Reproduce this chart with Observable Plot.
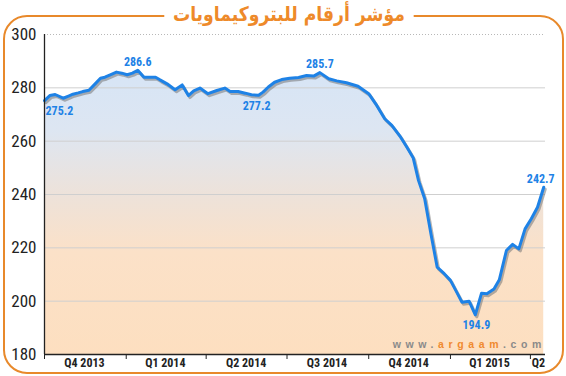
<!DOCTYPE html>
<html>
<head>
<meta charset="utf-8">
<script src="https://cdn.jsdelivr.net/npm/d3@7"></script>
<script src="https://cdn.jsdelivr.net/npm/@observablehq/plot@0.6"></script>
<style>
  body { margin: 0; background: #fff; }
  #wrap { position: relative; width: 566px; height: 376px; overflow: hidden; background: #fff; }
  #frame { position: absolute; left: 3px; top: 15px; width: 557px; height: 355px; border: 2px solid #e8892b; border-radius: 24px; }
  #title { position: absolute; top: 2px; left: 6px; width: 566px; text-align: center; }
  #title span { display: inline-block; background: #fff; padding: 0 10px; color: #ee8a2a; font: bold 20px "DejaVu Sans", sans-serif; direction: rtl; transform: scaleX(0.86); }
  #chart { position: absolute; left: 0; top: 0; }
  #wm { position: absolute; right: 20px; top: 338px; font: bold 10.5px "Liberation Sans", Arial, sans-serif; letter-spacing: 4.6px; color: #8a8a8a; white-space: nowrap; }
  #wm b { color: #f08a30; }
</style>
</head>
<body>
<div id="wrap">
  <div id="frame"></div>
  <div id="chart"></div>
  <div id="title"><span>مؤشر أرقام للبتروكيماويات</span></div>
  <div id="wm">www.<b>argaam</b>.com</div>
</div>
<script>
const dates = [
  "2013-10-01","2013-10-07","2013-10-13","2013-10-22","2013-10-28","2013-11-02","2013-11-08","2013-11-13",
  "2013-11-20","2013-11-27","2013-12-03","2013-12-08","2013-12-14","2013-12-21","2013-12-27","2014-01-02",
  "2014-01-08","2014-01-14","2014-01-21","2014-01-28","2014-02-03","2014-02-08","2014-02-16","2014-02-25",
  "2014-03-05","2014-03-12","2014-03-18","2014-03-25","2014-04-03","2014-04-13","2014-04-22","2014-04-28",
  "2014-05-07","2014-05-15","2014-05-22","2014-05-30","2014-06-04","2014-06-10","2014-06-17","2014-06-25",
  "2014-07-04","2014-07-14","2014-07-23","2014-07-31","2014-08-07","2014-08-17","2014-08-26","2014-09-06",
  "2014-09-19","2014-10-01","2014-10-10","2014-10-19","2014-10-27","2014-11-06","2014-11-13","2014-11-20",
  "2014-11-26","2014-12-03","2014-12-10","2014-12-17","2014-12-25","2015-01-01","2015-01-08","2015-01-14",
  "2015-01-22","2015-01-29","2015-02-05","2015-02-11","2015-02-19","2015-02-25","2015-03-05","2015-03-12",
  "2015-03-19","2015-03-26","2015-04-02","2015-04-09","2015-04-16"
];
const values = [
  275.2,277.1,277.5,276.1,276.9,277.6,278.1,278.6,
  279.1,281.5,283.6,284.0,284.9,285.9,285.5,284.9,
  285.5,286.6,284.0,284.0,284.0,283.0,281.5,279.3,
  281.1,277.1,278.9,279.9,277.8,279.0,279.9,278.6,
  278.6,278.0,277.4,277.2,278.4,280.3,282.1,283.1,
  283.6,283.9,284.6,284.4,285.7,283.4,282.6,281.9,
  280.6,277.8,273.4,268.4,265.9,261.5,257.7,253.8,
  245.3,238.4,225.3,212.8,210.3,207.8,203.4,199.6,
  200.0,194.9,203.0,202.8,204.6,208.0,219.0,221.3,
  219.6,227.1,230.9,235.2,242.7
];
const labelDates = ["2013-10-01","2014-01-14","2014-05-30","2014-08-07","2015-01-29","2015-04-16"];
const labelValues = [275.2, 286.6, 277.2, 285.7, 194.9, 242.7];
const quarterStarts = ["2013-10-01","2014-01-01","2014-04-01","2014-07-01","2014-10-01","2015-01-01","2015-04-01"];
const quarterLabels = ["Q4 2013","Q1 2014","Q2 2014","Q3 2014","Q4 2014","Q1 2015","Q2"];
const quarterLabelDates = ["2013-11-15","2014-02-14","2014-05-16","2014-08-15","2014-11-15","2015-02-14","2015-04-10"];
const yTicks = [180, 200, 220, 240, 260, 280, 300];
const xDomain = ["2013-10-01", "2015-04-18"];

const toDate = s => new Date(s + "T00:00:00Z");
const data = dates.map((d, i) => ({date: toDate(d), value: values[i]}));
const labels = labelDates.map((d, i) => ({date: toDate(d), value: labelValues[i], i}));
// label placement (dx, dy, anchor) per label index
const lp = [
  {dx: 1, dy: 11, a: "start"},
  {dx: 0, dy: -8, a: "middle"},
  {dx: -2, dy: 11, a: "middle"},
  {dx: 0, dy: -8, a: "middle"},
  {dx: 1, dy: 10, a: "middle"},
  {dx: -3, dy: -8, a: "middle"}
];
const blue = "#1e82e6";
const narrow = '"Liberation Sans Narrow", "Arial Narrow", "Roboto Condensed", "Liberation Sans", sans-serif';

const defsMark = () => {
  const ns = "http://www.w3.org/2000/svg";
  const defs = document.createElementNS(ns, "defs");
  defs.innerHTML = `<linearGradient id="fillGrad" gradientUnits="userSpaceOnUse" x1="0" y1="34" x2="0" y2="354">
      <stop offset="0" stop-color="#d3e4f8"/>
      <stop offset="0.3" stop-color="#dde6f2"/>
      <stop offset="0.5" stop-color="#ede2da"/>
      <stop offset="0.68" stop-color="#fbe1c8"/>
      <stop offset="1" stop-color="#fddfc0"/>
    </linearGradient>`;
  return defs;
};

const chart = Plot.plot({
  width: 566,
  height: 376,
  marginLeft: 44,
  marginRight: 21,
  marginTop: 34,
  marginBottom: 22,
  style: {fontFamily: narrow, background: "transparent", overflow: "visible"},
  x: {type: "utc", domain: xDomain.map(toDate)},
  y: {domain: [180, 300]},
  marks: [
    defsMark,
    Plot.areaY(data, {x: "date", y1: 180, y2: "value", fill: "url(#fillGrad)"}),
    Plot.ruleY(yTicks.filter(t => t > 180 && t < 300), {stroke: "#cfcfcf", strokeWidth: 1}),
    Plot.ruleY([300], {stroke: "#b8b8b8", strokeDasharray: "1,2"}),
    Plot.line(data, {x: "date", y: "value", stroke: "#777", strokeWidth: 3, strokeOpacity: 0.55, dx: 1.5, dy: 2}),
    Plot.line(data, {x: "date", y: "value", stroke: blue, strokeWidth: 3, strokeLinejoin: "round"}),
    ...lp.map((p, k) => Plot.text(labels.filter(d => d.i === k), {
      x: "date", y: "value", text: d => d.value.toFixed(1),
      dx: p.dx, dy: p.dy, textAnchor: p.a, fill: blue, fontWeight: "bold", fontSize: 12
    })),
    Plot.ruleX([toDate(xDomain[0])], {stroke: "#222", strokeWidth: 1.3}),
    Plot.ruleY([180], {stroke: "#222", strokeWidth: 1.3}),
    Plot.axisY({ticks: yTicks, tickSize: 0, tickPadding: 8, fontSize: 17, label: null, color: "#222"}),
    Plot.axisX({ticks: quarterStarts.map(toDate), tickFormat: () => "", tickSize: 5, label: null, stroke: "#222"}),
    Plot.text(quarterLabels, {
      x: (d, i) => toDate(quarterLabelDates[i]), text: d => d,
      frameAnchor: "bottom", dy: 12, fontWeight: "bold", fontSize: 12, fill: "#222"
    })
  ]
});
document.getElementById("chart").appendChild(chart);
</script>
</body>
</html>
